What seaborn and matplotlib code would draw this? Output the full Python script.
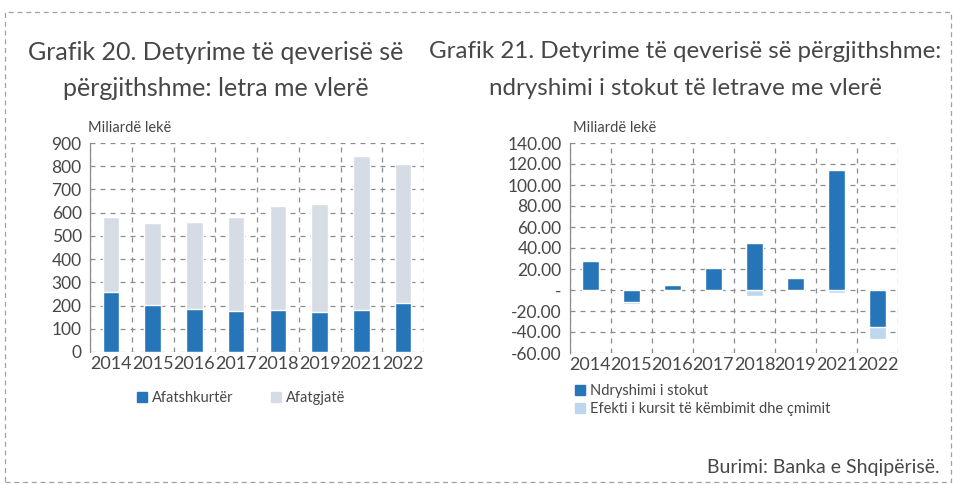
import numpy as np
import pandas as pd
import matplotlib.pyplot as plt
import seaborn as sns
from matplotlib.patches import Patch, Rectangle

# data
years = ['2014', '2015', '2016', '2017', '2018', '2019', '2021', '2022']
afatshkurter = [260, 201, 187, 178, 179, 174, 182, 210]
afatgjate = [320, 353, 373, 403, 448, 465, 663, 600]

ndryshimi = [27.5, -11.4, 5.1, 20.9, 44.6, 11.4, 114.2, -34.8]
efekti = [-0.5, -1.5, -1.0, -0.5, -5.4, -1.0, -3.2, -11.7]

left_ticks = [0, 100, 200, 300, 400, 500, 600, 700, 800, 900]
right_ticks = [-60, -40, -20, 0, 20, 40, 60, 80, 100, 120, 140]
right_ticklabels = ['-60.00', '-40.00', '-20.00', '-', '20.00', '40.00', '60.00',
                    '80.00', '100.00', '120.00', '140.00']

DARK = '#2675b8'
GREY = '#d6dce6'
LIGHT = '#bdd7ee'
TXT = '#474747'
GRID = '#8c8c8c'

sns.set_style('white')
plt.rcParams['font.family'] = ['Lato', 'DejaVu Sans']
plt.rcParams['font.weight'] = 'normal'

W, H = 954, 484
fig = plt.figure(figsize=(W / 100, H / 100), dpi=100)


def px_axes(x0, y0, x1, y1):
    return fig.add_axes([x0 / W, 1 - y1 / H, (x1 - x0) / W, (y1 - y0) / H])


def style_axes(ax, n):
    ax.set_xlim(-0.5, n - 0.5)
    ax.set_xlabel('')
    ax.set_ylabel('')
    for s in ['top', 'right', 'bottom']:
        ax.spines[s].set_visible(False)
    ax.spines['left'].set_color(GRID)
    ax.spines['left'].set_linewidth(0.9)
    ax.set_xticks(np.arange(-0.5, n, 1.0), minor=True)
    ax.grid(True, which='major', axis='y', linestyle=(0, (4, 4)), color=GRID, lw=0.9)
    ax.grid(True, which='minor', axis='x', linestyle=(0, (4, 4)), color=GRID, lw=0.9)
    ax.grid(False, which='major', axis='x')
    ax.set_axisbelow(True)
    ax.tick_params(axis='y', direction='inout', length=8, width=0.9, color=GRID,
                   labelsize=12.5, labelcolor=TXT, pad=2)
    ax.tick_params(axis='x', which='major', length=0, labelsize=13, labelcolor=TXT, pad=3)
    ax.tick_params(axis='x', which='minor', length=0)


# ---- Grafik 20 ----
df1 = pd.DataFrame({'year': years, 'short': afatshkurter, 'long': afatgjate})
df1['total'] = df1['short'] + df1['long']
ax1 = px_axes(90, 143, 424, 352)
sns.barplot(data=df1, x='year', y='total', color=GREY, width=0.4, saturation=1, ax=ax1)
sns.barplot(data=df1, x='year', y='short', color=DARK, width=0.4, saturation=1, ax=ax1)
ax1.set_ylim(0, 900)
ax1.set_yticks(left_ticks)
style_axes(ax1, len(years))

# ---- Grafik 21 ----
df2 = pd.DataFrame({'year': years, 'stock': ndryshimi, 'effect': efekti})
df2['effect_end'] = df2['effect'] + np.where(df2['stock'] < 0, df2['stock'], 0)
ax2 = px_axes(570, 143, 898, 353)
sns.barplot(data=df2, x='year', y='effect_end', color=LIGHT, width=0.4, saturation=1, ax=ax2)
sns.barplot(data=df2, x='year', y='stock', color=DARK, width=0.4, saturation=1, ax=ax2)
ax2.set_ylim(-60, 140)
ax2.set_yticks(right_ticks)
ax2.set_yticklabels(right_ticklabels)
style_axes(ax2, len(years))

# unit labels
fig.text(88 / W, 1 - 128 / H, 'Miliardë lekë', fontsize=10.5, color=TXT, va='center', ha='left')
fig.text(573 / W, 1 - 128 / H, 'Miliardë lekë', fontsize=10.5, color=TXT, va='center', ha='left')

# titles
fig.text(216 / W, 1 - 52 / H, 'Grafik 20. Detyrime të qeverisë së', fontsize=18,
         color=TXT, ha='center', va='center')
fig.text(216 / W, 1 - 88 / H, 'përgjithshme: letra me vlerë', fontsize=18,
         color=TXT, ha='center', va='center')
fig.text(685 / W, 1 - 52 / H, 'Grafik 21. Detyrime të qeverisë së përgjithshme:', fontsize=17.4,
         color=TXT, ha='center', va='center')
fig.text(685 / W, 1 - 88 / H, 'ndryshimi i stokut të letrave me vlerë', fontsize=17.4,
         color=TXT, ha='center', va='center')

# legends
leg_kw = dict(frameon=False, fontsize=10.5, handlelength=0.7, handleheight=0.7,
              handletextpad=0.3, labelcolor=TXT, borderpad=0, borderaxespad=0)
fig.legend(handles=[Patch(color=DARK, label='Afatshkurtër'),
                    Patch(color=GREY, label='Afatgjatë')],
           loc='center left', bbox_to_anchor=(137 / W, 1 - 398 / H), ncol=2,
           columnspacing=2.6, **leg_kw)
fig.legend(handles=[Patch(color=DARK, label='Ndryshimi i stokut'),
                    Patch(color=LIGHT, label='Efekti i kursit të këmbimit dhe çmimit')],
           loc='upper left', bbox_to_anchor=(575 / W, 1 - 384 / H), ncol=1,
           labelspacing=0.3, **leg_kw)

# source and border
fig.text(940 / W, 1 - 468 / H, 'Burimi: Banka e Shqipërisë.', fontsize=14,
         color=TXT, ha='right', va='center')
fig.patches.append(Rectangle((5 / W, 1 - 482 / H), 946 / W, 470 / H, transform=fig.transFigure,
                             fill=False, edgecolor='#a0a0a0', lw=0.9, linestyle=(0, (4, 3))))

fig.savefig('out.png', dpi=100)
